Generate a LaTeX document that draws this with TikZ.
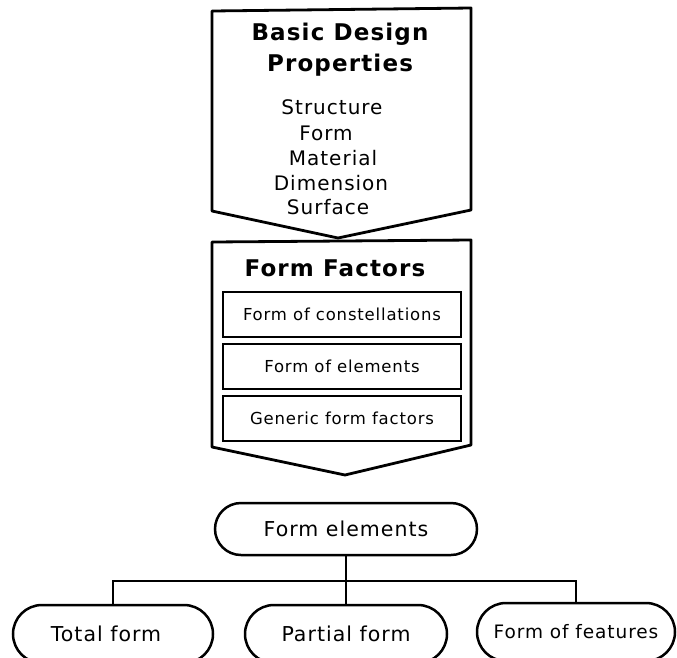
\documentclass[tikz,border=0pt]{standalone}
\usepackage{fontspec}
\setmainfont{DejaVu Sans}[LetterSpace=5]
\usetikzlibrary{shapes.misc}

\begin{document}
\begin{tikzpicture}[x=1pt,y=-1pt,
  outline/.style={draw=black, line width=2.8pt, line join=round, line cap=round},
  factorbox/.style={draw=black, line width=1.2pt, minimum width=238pt, minimum height=45pt, inner sep=0pt, font=\fontsize{16.5}{18}\selectfont},
  pill/.style={rounded rectangle, draw=black, line width=2.5pt, inner sep=0pt, font=\fontsize{20.5}{22}\selectfont},
  link/.style={draw=black, line width=1.1pt},
  txt/.style={inner sep=0pt, font=\fontsize{20}{22}\selectfont},
  heading/.style={inner sep=0pt, font=\fontsize{23}{31}\selectfont\bfseries, align=center},
]
\useasboundingbox (0,0) rectangle (677,657);
\clip (0,0) rectangle (677,657);

% Basic design properties: pointer-shaped panel
\draw[outline] (212,11) -- (471,8) -- (471,210) -- (338,238) -- (212,211) -- cycle;
\node[heading] (props) at (340,50) {Basic Design\\Properties};
\node[txt] (structure) at (332,107) {Structure};
\node[txt] (form) at (326,133) {Form};
\node[txt] (material) at (333,158) {Material};
\node[txt] (dimension) at (331,183) {Dimension};
\node[txt] (surface) at (328,207) {Surface};

% Form factors: second pointer-shaped panel
\draw[outline] (212,242) -- (471,240) -- (471,445) -- (345,475) -- (212,447) -- cycle;
\node[heading] (factors) at (335,268) {Form Factors};
\node[factorbox] (constellations) at (342,314.5) {Form of constellations};
\node[factorbox] (ofelements) at (342,366.5) {Form of elements};
\node[factorbox] (generic) at (342,418.5) {Generic form factors};

% Form elements tree
\node[pill, minimum width=262pt, minimum height=52pt] (elements) at (346,529) {Form elements};
\node[pill, minimum width=200pt, minimum height=58pt] (total) at (113,634) {\hspace*{-14pt}Total form};
\node[pill, minimum width=202pt, minimum height=58pt] (partial) at (346,634) {Partial form};
\node[pill, minimum width=198pt, minimum height=58pt, font=\fontsize{18.5}{20}\selectfont] (features) at (576,632) {Form of features};

\coordinate (bus) at (346,581);
\draw[link] (elements.south) -- (partial.north);
\draw[link] (total.north) -- (total.north |- bus) -- (features.north |- bus) -- (features.north);
\end{tikzpicture}
\end{document}
